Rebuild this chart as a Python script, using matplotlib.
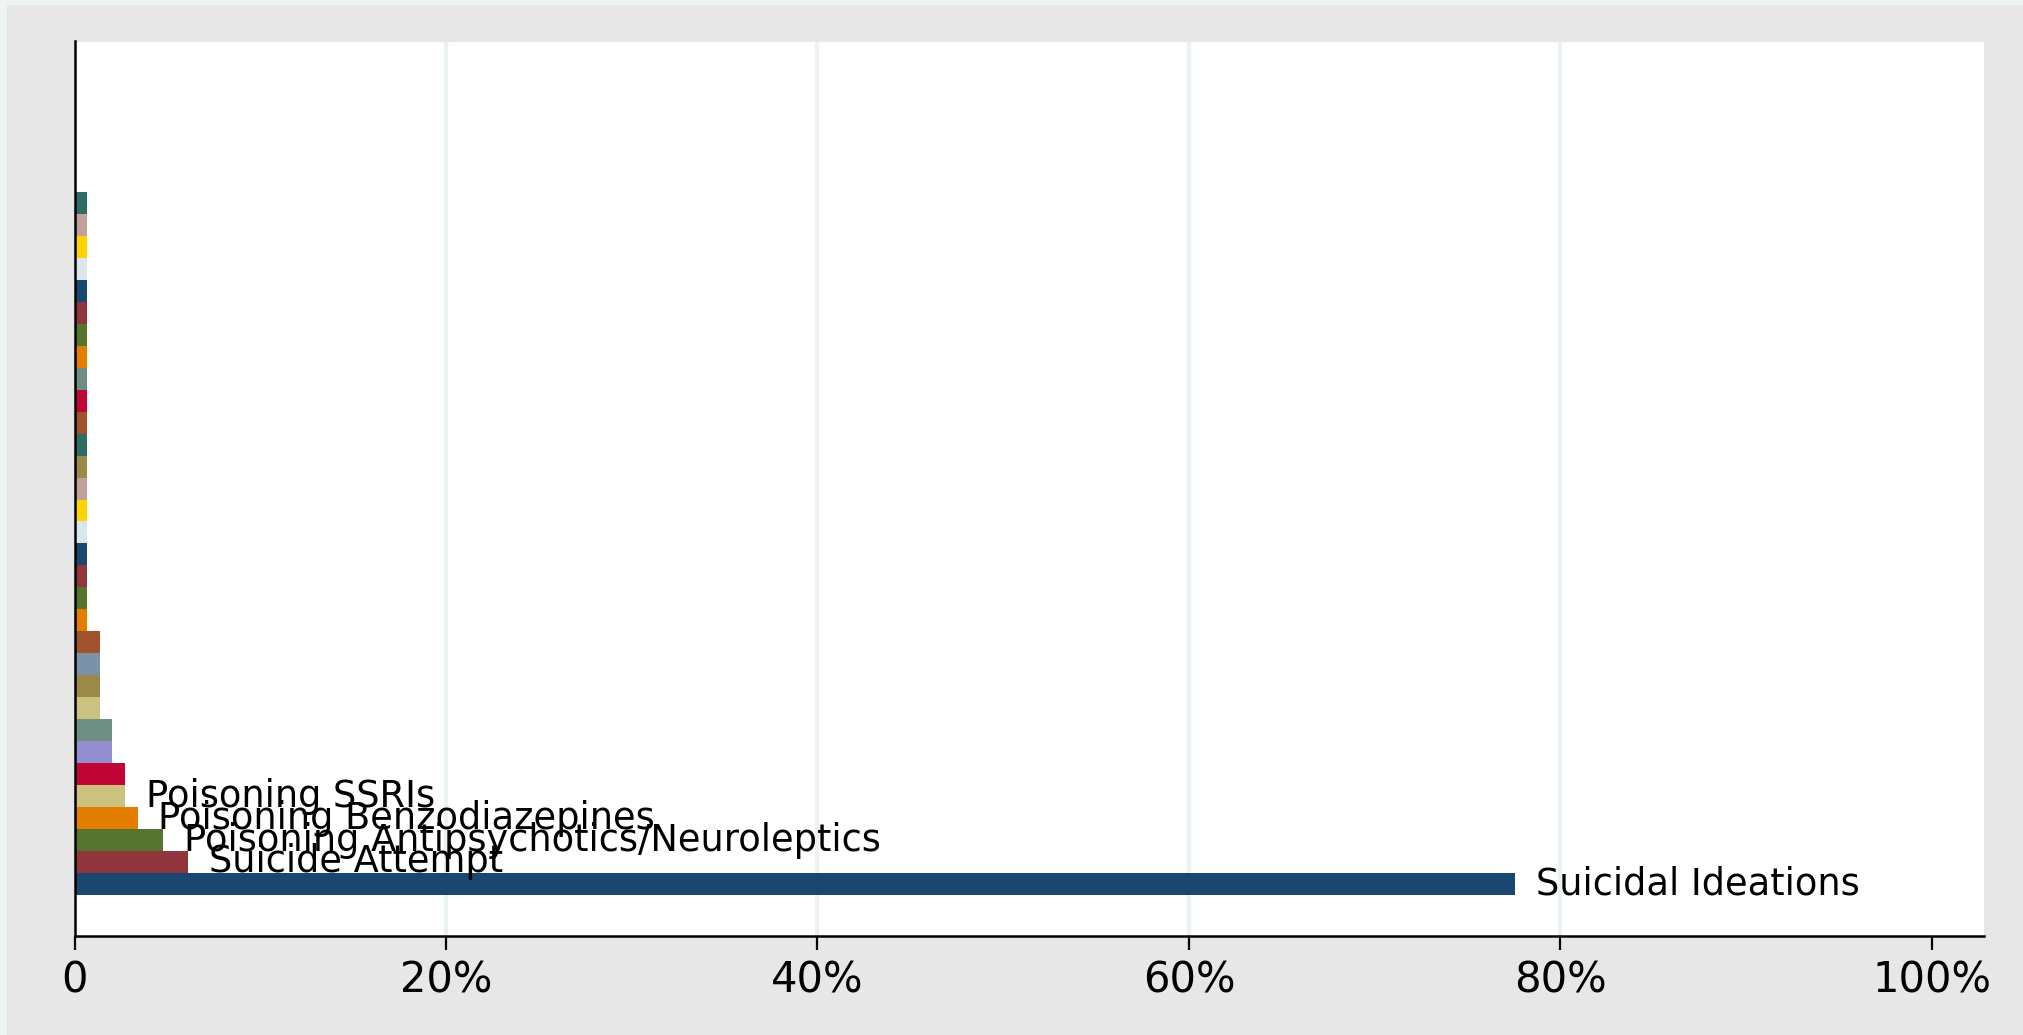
import matplotlib
matplotlib.use("Agg")
import matplotlib.pyplot as plt
from matplotlib.patches import Rectangle

# ---- data (bottom to top) ----
categories = [
    "Suicidal Ideations", "Suicide Attempt", "Poisoning Antipsychotics/Neuroleptics",
    "Poisoning Benzodiazepines", "Poisoning SSRIs",
    "", "", "", "", "", "", "", "", "", "", "", "", "", "", "", "", "", "", "", "", "", "", "", "", "", "", "",
]
values = [
    77.55, 6.12, 4.76, 3.40, 2.72,
    2.72, 2.04, 2.04, 1.36, 1.36, 1.36, 1.36,
    0.68, 0.68, 0.68, 0.68, 0.68, 0.68, 0.68, 0.68, 0.68, 0.68,
    0.68, 0.68, 0.68, 0.68, 0.68, 0.68, 0.68, 0.68, 0.68, 0.68,
]
xticks = [0, 20, 40, 60, 80, 100]
xticklabels = ["0", "20%", "40%", "60%", "80%", "100%"]
gridlines = [20, 40, 60, 80]

# ---- styles ----
navy, maroon, green, orange = "#1a476f", "#90353b", "#55752f", "#e37e00"
teal, cranberry, lavender, khaki = "#6e8e84", "#c10534", "#938dd2", "#cac27e"
sienna, emidblue, emerald, brown = "#a0522d", "#7b92a8", "#2d6d66", "#9c8847"
erose, gold, bluishgray = "#c0a29b", "#ffd200", "#d9e6eb"
colors = [
    navy, maroon, green, orange, khaki,
    cranberry, lavender, teal, khaki, brown, emidblue, sienna,
    orange, green, maroon, navy, bluishgray, gold, erose, brown, emerald, sienna,
    cranberry, teal, orange, green, maroon, navy, bluishgray, gold, erose, emerald,
]

W, H = 2023, 1035
fig = plt.figure(figsize=(W / 100, H / 100), dpi=100)
fig.patch.set_facecolor("#eef3f3")
fig.patches.append(Rectangle((7 / W, 0), 1 - 7 / W, 1 - 5 / H, transform=fig.transFigure,
                             facecolor="#e7e7e7", edgecolor="none", zorder=-10))

ax = fig.add_axes([74.5 / W, (H - 936) / H, (1984 - 74.5) / W, (936 - 41.5) / H])
ax.set_facecolor("white")

ypos = list(range(len(values)))
ax.barh(ypos, values, height=1.0, color=colors, edgecolor="none", zorder=2)

for g in gridlines:
    ax.axvline(g, color="#eaf2f3", linewidth=3, zorder=1)

for y, v, lab in zip(ypos, values, categories):
    if lab:
        ax.annotate(lab, xy=(v, y), xytext=(15, 0), textcoords="offset points",
                    va="center", ha="left", fontsize=26.5, color="black", zorder=3)

ax.set_xlim(0, 102.8)
ax.set_ylim(-2.37, 38.35)
ax.set_xticks(xticks)
ax.set_xticklabels(xticklabels, fontsize=30)
ax.set_yticks([])
ax.tick_params(axis="x", direction="out", length=10, width=1.6, pad=7, colors="black")

for s in ["top", "right"]:
    ax.spines[s].set_visible(False)
for s in ["left", "bottom"]:
    ax.spines[s].set_linewidth(1.8)
    ax.spines[s].set_color("black")

fig.savefig("out.png", dpi=100, facecolor=fig.get_facecolor())
